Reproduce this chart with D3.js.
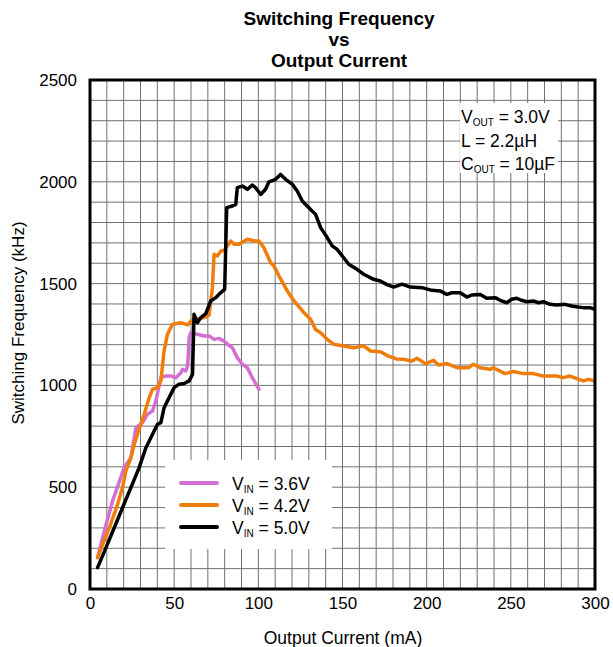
<!DOCTYPE html>
<html>
<head>
<meta charset="utf-8">
<script src="https://cdn.jsdelivr.net/npm/d3@7"></script>
<style>
  html, body { margin: 0; padding: 0; background: #fff; }
  svg { display: block; font-family: "Liberation Sans", Arial, sans-serif; }
</style>
</head>
<body>
<svg id="chart" width="613" height="647"></svg>
<script>
// Axis ticks
const xTicks = [0, 50, 100, 150, 200, 250, 300];
const yTicks = [0, 500, 1000, 1500, 2000, 2500];

// V_IN = 3.6 V : output current (mA) / switching frequency (kHz)
const vin36Current = [4.5, 8.5, 13.4, 20.3, 24.3, 27.3, 31.2, 34.1, 37.1, 39.1, 42.1, 45, 48, 51, 54, 55, 56.9, 58, 58.9, 59.9, 63.8, 67.8, 70.7, 73.7, 76.6, 79.6, 81.6, 84.6, 87.5, 90.5, 93.5, 96.4, 100.4];
const vin36Freq    = [154, 285, 432, 596, 645, 792, 817, 858, 874, 923, 1038, 1046, 1046, 1038, 1062, 1079, 1071, 1095, 1234, 1259, 1251, 1243, 1243, 1226, 1231, 1218, 1202, 1185, 1136, 1104, 1087, 1038, 981];

// V_IN = 4.2 V
const vin42Current = [4.5, 7.5, 11.5, 16.4, 19.3, 21.3, 24.3, 26.3, 28.2, 32.2, 35.2, 37.1, 40.1, 42.1, 44, 46, 49, 54, 58, 59.9, 62.8, 67.8, 70.7, 71.7, 72.7, 73.7, 75.7, 77.7, 79.6, 83.6, 85.6, 88.5, 93.5, 97.4, 100.4, 103.3, 107.3, 109.3, 112.3, 117.2, 121.2, 127.1, 131, 134, 137, 140.9, 144.8, 150.7, 156.7, 162.6, 166.6, 172.5, 177, 182, 186.3, 191.3, 194.2, 199.2, 204.1, 207.1, 212, 218, 224.8, 227.8, 231.8, 237.7, 239.7, 246.6, 251.5, 257.4, 263.4, 269.3, 277.2, 281.1, 285.1, 293, 296, 299.5];
const vin42Freq    = [154, 219, 301, 416, 498, 579, 645, 711, 760, 858, 940, 981, 989, 1022, 1169, 1251, 1300, 1308, 1297, 1316, 1325, 1333, 1345, 1410, 1480, 1644, 1636, 1660, 1663, 1709, 1693, 1693, 1718, 1709, 1709, 1676, 1603, 1586, 1537, 1464, 1415, 1357, 1325, 1275, 1259, 1226, 1202, 1194, 1185, 1194, 1169, 1165, 1145, 1130, 1128, 1120, 1133, 1107, 1123, 1100, 1107, 1087, 1087, 1104, 1087, 1079, 1087, 1058, 1068, 1058, 1058, 1046, 1046, 1038, 1046, 1022, 1030, 1022];

// V_IN = 5.0 V
const vin50Current = [4.5, 9.5, 14.4, 19.3, 24.3, 29.2, 33.2, 35.2, 38.1, 40.1, 42.1, 44, 47, 50, 52.9, 55.9, 58.9, 60.9, 61.8, 63.8, 65.8, 68.8, 71.7, 74.7, 77.7, 80, 81.2, 84.6, 86.6, 87.5, 90.5, 93.5, 96.4, 98.4, 101.4, 104.3, 106.3, 110.3, 113.2, 116.2, 120.2, 123.1, 126.1, 130, 134, 137, 140.9, 143.9, 146.8, 150.7, 153.7, 158.6, 162.6, 168.5, 172.5, 176.4, 180.4, 185.3, 190.3, 197.2, 203.1, 208, 212, 215, 219.9, 223.9, 226.8, 231.8, 235.7, 240.7, 243.6, 247.6, 250.5, 253.5, 256.4, 259.4, 263.4, 266.3, 269.3, 273.3, 277.2, 282.1, 286.1, 290, 293, 297, 300];
const vin50Freq    = [105, 203, 301, 399, 498, 596, 694, 727, 776, 809, 817, 890, 940, 989, 1006, 1009, 1022, 1054, 1349, 1308, 1333, 1352, 1415, 1431, 1456, 1472, 1873, 1881, 1889, 1971, 1979, 1963, 1984, 1971, 1938, 1963, 2000, 2012, 2036, 2012, 1988, 1955, 1906, 1873, 1840, 1775, 1726, 1685, 1668, 1627, 1595, 1570, 1546, 1521, 1513, 1495, 1483, 1497, 1483, 1480, 1467, 1464, 1447, 1455, 1455, 1434, 1444, 1447, 1428, 1431, 1418, 1406, 1423, 1428, 1418, 1411, 1415, 1406, 1411, 1398, 1395, 1398, 1390, 1385, 1382, 1382, 1374];

const seriesNames  = ["3.6V", "4.2V", "5.0V"];
const seriesColors = ["#d36fd3", "#f07d0a", "#000000"];

const series = [
  { name: seriesNames[0], color: seriesColors[0], x: vin36Current, y: vin36Freq },
  { name: seriesNames[1], color: seriesColors[1], x: vin42Current, y: vin42Freq },
  { name: seriesNames[2], color: seriesColors[2], x: vin50Current, y: vin50Freq }
];

const svg = d3.select("#chart");
const plot = { left: 90, right: 595, top: 80, bottom: 589 };

const x = d3.scaleLinear().domain([0, 300]).range([plot.left, plot.right]);
const y = d3.scaleLinear().domain([0, 2500]).range([plot.bottom, plot.top]);

// Grid: 10 mA by 100 kHz
const grid = svg.append("g").attr("stroke", "#707070").attr("stroke-width", 1);
grid.selectAll("line.v").data(d3.range(10, 300, 10)).join("line")
  .attr("x1", d => x(d)).attr("x2", d => x(d))
  .attr("y1", plot.top).attr("y2", plot.bottom);
grid.selectAll("line.h").data(d3.range(100, 2500, 100)).join("line")
  .attr("x1", plot.left).attr("x2", plot.right)
  .attr("y1", d => y(d)).attr("y2", d => y(d));

// Axes (labels only, no tick marks)
const xAxis = svg.append("g")
  .attr("transform", `translate(0,${plot.bottom})`)
  .call(d3.axisBottom(x).tickValues(xTicks).tickFormat(d3.format("d")).tickSize(0).tickPadding(8));
const yAxis = svg.append("g")
  .attr("transform", `translate(${plot.left},0)`)
  .call(d3.axisLeft(y).tickValues(yTicks).tickFormat(d3.format("d")).tickSize(0).tickPadding(13));
[xAxis, yAxis].forEach(a => {
  a.select(".domain").remove();
  a.selectAll("text").attr("font-size", 17).attr("fill", "#000")
    .attr("font-family", "Liberation Sans, Arial, sans-serif");
});

// Curves
svg.append("clipPath").attr("id", "plotClip").append("rect")
  .attr("x", plot.left).attr("y", plot.top)
  .attr("width", plot.right - plot.left).attr("height", plot.bottom - plot.top);

const line = d3.line().x(d => x(d[0])).y(d => y(d[1]));
svg.append("g").attr("clip-path", "url(#plotClip)")
  .selectAll("path").data(series).join("path")
  .attr("d", s => line(d3.zip(s.x, s.y)))
  .attr("fill", "none")
  .attr("stroke", s => s.color)
  .attr("stroke-width", 3.5)
  .attr("stroke-linejoin", "round")
  .attr("stroke-linecap", "round");

// Frame
svg.append("rect")
  .attr("x", plot.left).attr("y", plot.top)
  .attr("width", plot.right - plot.left).attr("height", plot.bottom - plot.top)
  .attr("fill", "none").attr("stroke", "#000").attr("stroke-width", 3);

// Conditions box
const cond = svg.append("g");
cond.append("rect").attr("x", 460).attr("y", 103).attr("width", 98).attr("height", 70).attr("fill", "#fff");
const condRows = [
  { main: "V", sub: "OUT", rest: " = 3.0V", yb: 123 },
  { main: "L = 2.2µH", sub: null, rest: "", yb: 146.5 },
  { main: "C", sub: "OUT", rest: " = 10µF", yb: 170 }
];
condRows.forEach(r => {
  const t = cond.append("text").attr("x", 461).attr("y", r.yb).attr("font-size", 17.5).attr("fill", "#000");
  t.append("tspan").text(r.main);
  if (r.sub) {
    t.append("tspan").attr("font-size", 10).attr("dy", 3).text(r.sub);
    t.append("tspan").attr("dy", -3).text(r.rest);
  }
});

// Legend
const legend = svg.append("g");
legend.append("rect").attr("x", 165).attr("y", 460).attr("width", 167).attr("height", 89).attr("fill", "#fff");
const legendY = [483, 505, 527];
series.forEach((s, i) => {
  legend.append("line")
    .attr("x1", 181).attr("x2", 217).attr("y1", legendY[i]).attr("y2", legendY[i])
    .attr("stroke", s.color).attr("stroke-width", 4).attr("stroke-linecap", "round");
  const t = legend.append("text").attr("x", 232).attr("y", legendY[i] + 7)
    .attr("font-size", 17.5).attr("fill", "#000");
  t.append("tspan").text("V");
  t.append("tspan").attr("font-size", 10).attr("dy", 3).text("IN");
  t.append("tspan").attr("dy", -3).text(" = " + s.name);
});

// Title: one text block, three lines
const titleLines = ["Switching Frequency", "vs", "Output Current"];
const titleStep = [0, 21, 21];
const title = svg.append("text")
  .attr("x", 339).attr("y", 25)
  .attr("text-anchor", "middle").attr("font-size", 19).attr("font-weight", "bold")
  .attr("fill", "#000");
title.selectAll("tspan").data(titleLines).join("tspan")
  .attr("x", 339).attr("dy", (d, i) => titleStep[i]).text(d => d);

// Axis titles
svg.append("text")
  .attr("transform", "translate(24,323) rotate(-90)")
  .attr("text-anchor", "middle").attr("font-size", 17).attr("fill", "#000")
  .text("Switching Frequency (kHz)");
svg.append("text")
  .attr("x", 343).attr("y", 644)
  .attr("text-anchor", "middle").attr("font-size", 17.5).attr("fill", "#000")
  .text("Output Current (mA)");
</script>
</body>
</html>
